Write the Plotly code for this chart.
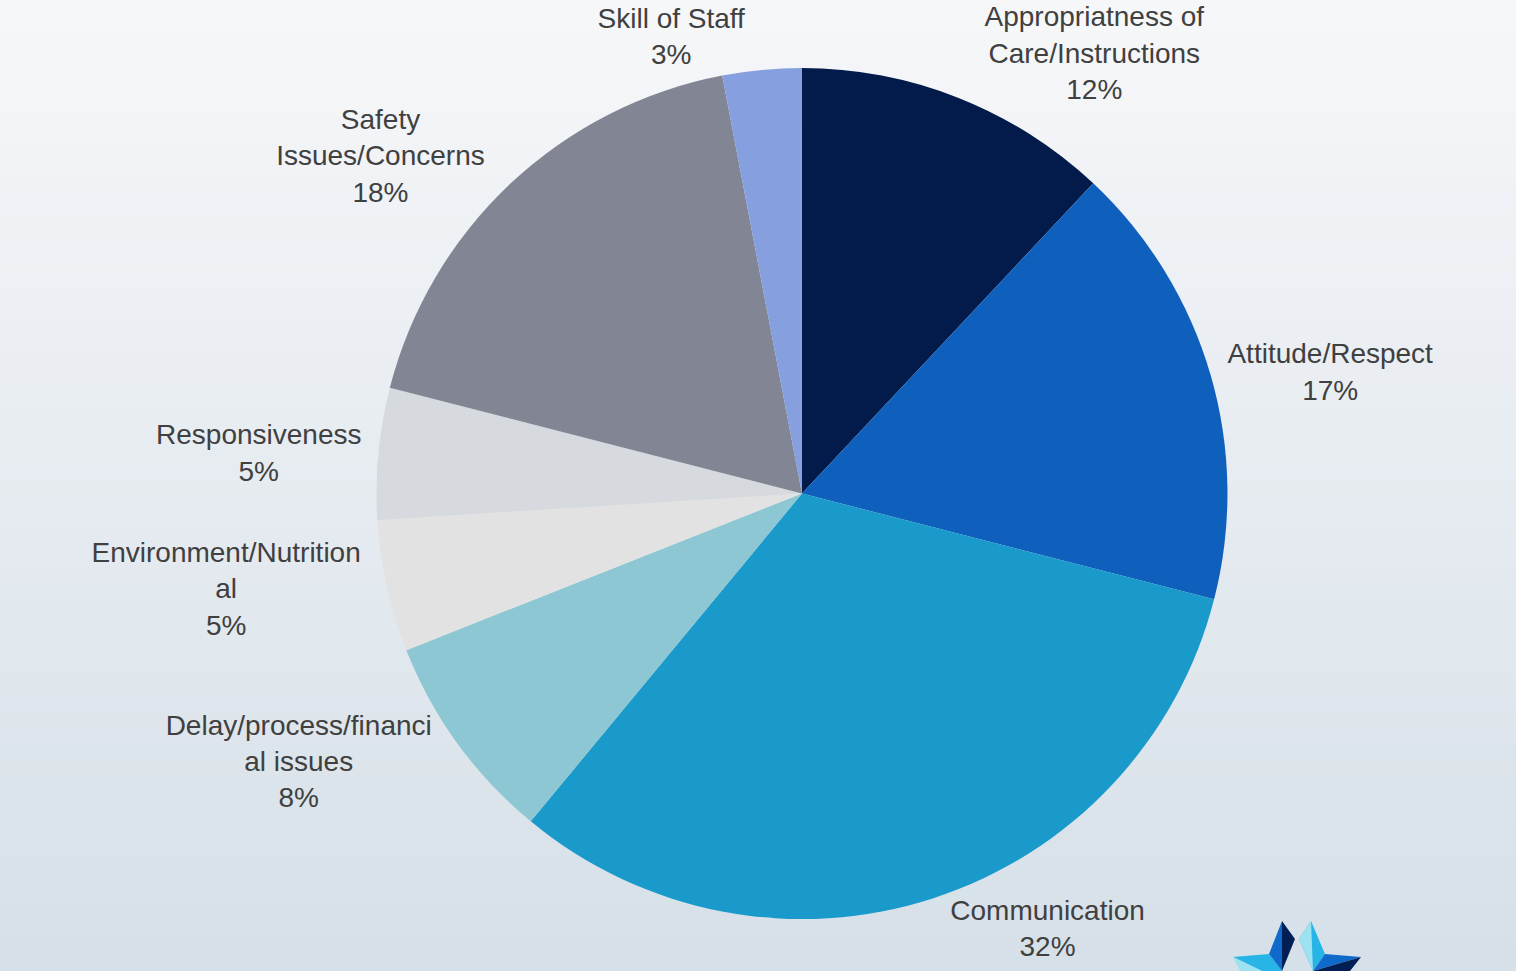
import plotly.graph_objects as go

categories = ["Appropriatness of Care/Instructions", "Attitude/Respect", "Communication",
              "Delay/process/financial issues", "Environment/Nutritional",
              "Responsiveness", "Safety Issues/Concerns", "Skill of Staff"]
label_text = ["Appropriatness of<br>Care/Instructions", "Attitude/Respect", "Communication",
              "Delay/process/financi<br>al issues", "Environment/Nutrition<br>al",
              "Responsiveness", "Safety<br>Issues/Concerns", "Skill of Staff"]
values = [12, 17, 32, 8, 5, 5, 18, 3]
colors = ["#021B4A", "#0F5FBD", "#1A9ACB", "#8CC7D3", "#E2E2E2", "#D6D9DD", "#828593", "#869FDF"]

W, H = 1516, 971
MT, MB = 68, 52
PH = H - MT - MB

fig = go.Figure(go.Pie(
    labels=categories,
    values=values,
    text=label_text,
    texttemplate="%{text}<br>%{percent:.0%}",
    textposition="outside",
    sort=False,
    direction="clockwise",
    rotation=0,
    marker=dict(colors=colors, line=dict(width=0)),
    textfont=dict(family="Liberation Sans, Arial, sans-serif", size=28, color="#404040"),
    showlegend=False,
    domain=dict(x=[0.2, 0.858], y=[0, 1]),
    hoverinfo="label+percent",
))

fig.update_layout(
    width=W, height=H,
    margin=dict(l=0, r=0, t=MT, b=MB, autoexpand=False),
    paper_bgcolor="#E8EDF2",
    showlegend=False,
)

# vertical background gradient as thin bands
def hexmix(c1, c2, t):
    a = [int(c1[i:i + 2], 16) for i in (1, 3, 5)]
    b = [int(c2[i:i + 2], 16) for i in (1, 3, 5)]
    return "#" + "".join(f"{round(x + (y - x) * t):02X}" for x, y in zip(a, b))

shapes = []
N = 60
top_c, bot_c = "#F6F7F9", "#D6E0E8"
for i in range(N):
    y0 = 1 + MT / PH - (i + 1) * (H / PH) / N
    y1 = 1 + MT / PH - i * (H / PH) / N
    shapes.append(dict(type="rect", xref="paper", yref="paper", x0=-0.1, x1=1.1,
                       y0=y0 - 0.002, y1=y1 + 0.002, fillcolor=hexmix(top_c, bot_c, i / (N - 1)),
                       line=dict(width=0), layer="below"))

# decorative logo (bottom right), pixel coords converted to paper coords
def px(x, y):
    return x / W, (H - MB - y) / PH

def path(points):
    s = ""
    for i, (x, y) in enumerate(points):
        u, v = px(x, y)
        s += ("M" if i == 0 else "L") + f"{u:.5f},{v:.5f}"
    return s + "Z"

logo = [
    ([(1233, 957), (1269, 954), (1282, 971), (1262, 971)], "#26B5E6"),
    ([(1233, 957), (1262, 971), (1240, 971)], "#9CE2F0"),
    ([(1269, 954), (1282, 921), (1282, 971)], "#0F6ACB"),
    ([(1282, 921), (1295, 939), (1282, 971)], "#021F55"),
    ([(1311, 921), (1325, 954), (1313, 971), (1299, 939)], "#26B5E6"),
    ([(1311, 921), (1299, 939), (1313, 971)], "#9CE2F0"),
    ([(1325, 954), (1361, 957), (1313, 971)], "#0F6ACB"),
    ([(1361, 957), (1350, 971), (1313, 971)], "#021F55"),
]
for p, c in logo:
    shapes.append(dict(type="path", xref="paper", yref="paper", path=path(p),
                       fillcolor=c, line=dict(width=0), layer="above"))
fig.update_layout(shapes=shapes)

fig.write_html("out.html", config={"displayModeBar": False},
               post_script="document.body.style.margin='0';document.body.style.overflow='hidden';")
